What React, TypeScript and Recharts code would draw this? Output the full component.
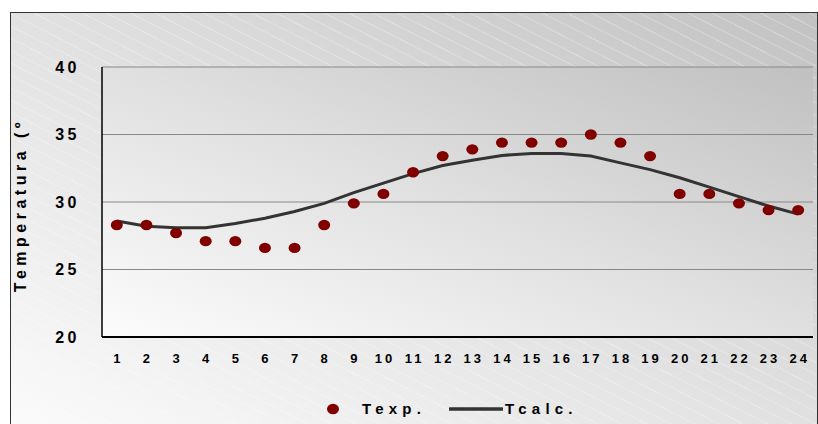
import React from "react";
import { ComposedChart, Line, XAxis, YAxis, CartesianGrid } from "recharts";

// hours 1..24
const HOURS = ["1","2","3","4","5","6","7","8","9","10","11","12","13","14","15","16","17","18","19","20","21","22","23","24"];
// measured temperature
const T_EXP = [28.3,28.3,27.7,27.1,27.1,26.6,26.6,28.3,29.9,30.6,32.2,33.4,33.9,34.4,34.4,34.4,35.0,34.4,33.4,30.6,30.6,29.9,29.4,29.4];
// calculated temperature
const T_CALC = [28.6,28.2,28.1,28.1,28.4,28.8,29.3,29.9,30.7,31.4,32.1,32.7,33.1,33.45,33.6,33.6,33.4,32.9,32.4,31.8,31.1,30.4,29.7,29.1];
const Y_TICKS = [20, 25, 30, 35, 40];

const DATA = HOURS.map((h, i) => ({ h, texp: T_EXP[i], tcalc: T_CALC[i] }));

const DOT = "#800000";
const LINE = "#333333";
const FONT = "'Liberation Sans', Arial, sans-serif";

function EllipseDot(props: { cx?: number; cy?: number; index?: number }) {
  const { cx, cy, index } = props;
  if (cx == null || cy == null) return null;
  return <ellipse key={index} cx={cx} cy={cy} rx={6} ry={5.2} fill={DOT} />;
}

function XTick(props: { x?: number; y?: number; payload?: { value: string } }) {
  const { x = 0, y = 0, payload } = props;
  return (
    <text x={x + 1.5} y={y + 4} textAnchor="middle" fontFamily={FONT} fontWeight="bold" fontSize={13} fill="#000" style={{ letterSpacing: 3 }}>
      {payload?.value}
    </text>
  );
}

function YTick(props: { x?: number; y?: number; payload?: { value: number } }) {
  const { x = 0, y = 0, payload } = props;
  return (
    <text x={x + 4} y={y + 5.5} textAnchor="end" fontFamily={FONT} fontWeight="bold" fontSize={16} fill="#000" style={{ letterSpacing: 3.5 }}>
      {payload?.value}
    </text>
  );
}

function YLabel() {
  return (
    <text
      x={26}
      y={205}
      transform="rotate(-90 26 205)"
      textAnchor="middle"
      fontFamily={FONT}
      fontWeight="bold"
      fontSize={16}
      fill="#000"
      style={{ letterSpacing: 4.5 }}
    >
      Temperatura (º
    </text>
  );
}

export default function App() {
  return (
    <div style={{ position: "absolute", left: 0, top: 0, width: 818, height: 424, background: "#fff", overflow: "hidden" }}>
      <div
        style={{
          position: "absolute",
          left: 10,
          top: 12,
          width: 806,
          height: 420,
          border: "1.5px solid #333",
          background:
            "repeating-linear-gradient(27deg, rgba(255,255,255,0) 0px, rgba(255,255,255,0) 10px, rgba(255,255,255,0.25) 10px, rgba(255,255,255,0.25) 11px), linear-gradient(to top right, #fbfbfb 0%, #e4e4e4 45%, #c2c2c2 100%)",
        }}
      />
      <div style={{ position: "absolute", left: 0, top: 0 }}>
        <ComposedChart width={818} height={424} data={DATA} margin={{ top: 67, right: 5, bottom: 47, left: 10 }}>
          <defs>
            <linearGradient id="plotBg" x1="0" y1="1" x2="1" y2="0">
              <stop offset="0%" stopColor="#fcfcfc" />
              <stop offset="50%" stopColor="#e0e0e0" />
              <stop offset="100%" stopColor="#c0c0c0" />
            </linearGradient>
          </defs>
          <CartesianGrid vertical={false} stroke="#888" strokeWidth={1} fill="url(#plotBg)" fillOpacity={1} />
          <XAxis
            dataKey="h"
            scale="band"
            height={40}
            axisLine={{ stroke: "#000", strokeWidth: 2 }}
            tickLine={false}
            tickMargin={16}
            interval={0}
            tick={<XTick />}
          />
          <XAxis xAxisId="top" dataKey="h" orientation="top" height={0} tick={false} tickLine={false} axisLine={{ stroke: "#000", strokeWidth: 1.5 }} />
          <YAxis
            domain={[20, 40]}
            ticks={Y_TICKS}
            width={92}
            axisLine={{ stroke: "#000", strokeWidth: 1.5 }}
            tickLine={false}
            tickMargin={20}
            tick={<YTick />}
          />
          <YAxis yAxisId="right" orientation="right" width={0} domain={[20, 40]} tick={false} tickLine={false} axisLine={{ stroke: "#333", strokeWidth: 1.5 }} />
          <Line
            dataKey="tcalc"
            type="linear"
            stroke={LINE}
            strokeWidth={3}
            dot={false}
            activeDot={false}
            isAnimationActive={false}
          />
          <Line
            dataKey="texp"
            type="linear"
            stroke="none"
            dot={<EllipseDot />}
            activeDot={false}
            isAnimationActive={false}
          />
          <YLabel />
        </ComposedChart>
      </div>
      {/* legend */}
      <div
        style={{
          position: "absolute",
          left: 326,
          top: 400,
          display: "flex",
          alignItems: "center",
          fontFamily: FONT,
          fontWeight: "bold",
          fontSize: 15,
          letterSpacing: 5.2,
          color: "#000",
        }}
      >
        <svg width={14} height={12} style={{ marginRight: 22 }}>
          <ellipse cx={7} cy={6} rx={6} ry={5.2} fill={DOT} />
        </svg>
        <span>Texp.</span>
        <svg width={54} height={6} style={{ marginLeft: 23, marginRight: 2 }}>
          <line x1={1} y1={3} x2={53} y2={3} stroke={LINE} strokeWidth={3.5} strokeLinecap="round" />
        </svg>
        <span>Tcalc.</span>
      </div>
    </div>
  );
}
